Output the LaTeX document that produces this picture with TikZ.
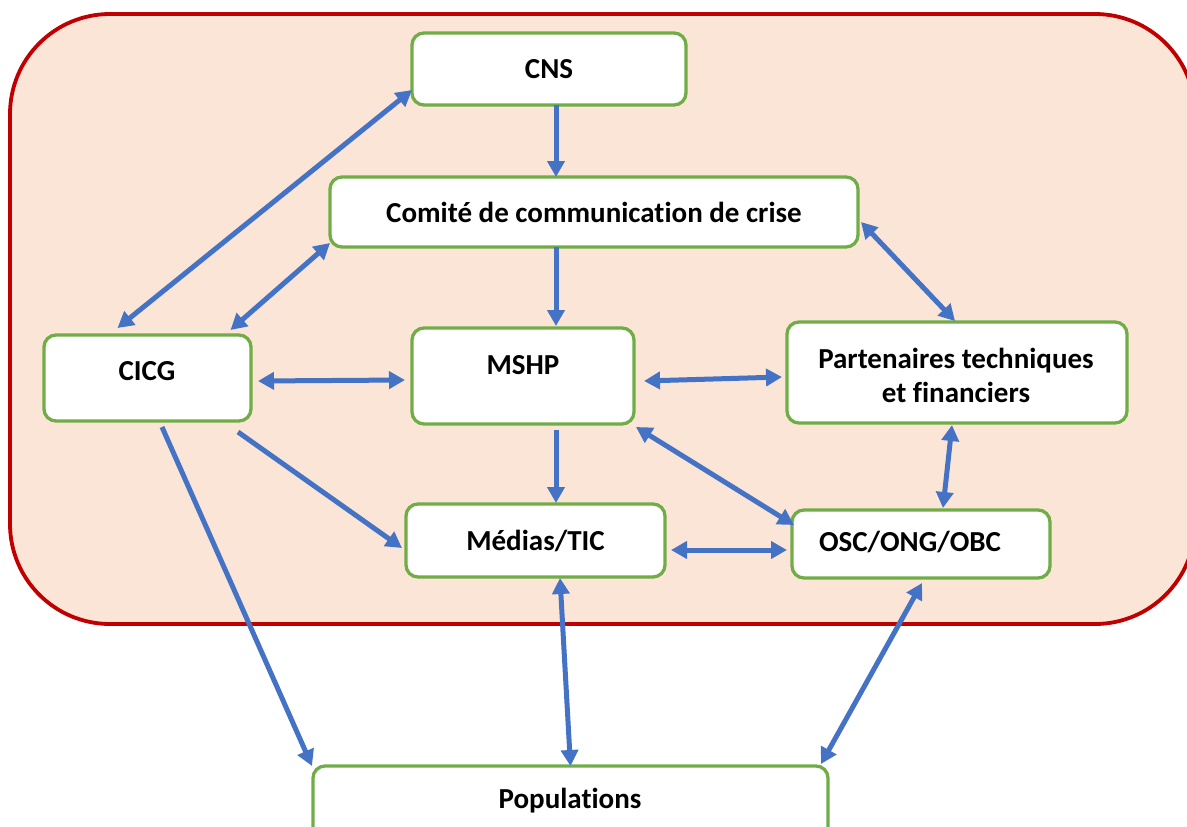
\documentclass[tikz,border=0pt]{standalone}
\usepackage{fontspec}
\setmainfont{Carlito}[Ligatures=NoCommon]
\usetikzlibrary{arrows.meta}
\definecolor{boxgreen}{HTML}{70AD47}
\definecolor{arrowblue}{HTML}{4472C4}
\definecolor{framered}{HTML}{C00000}
\definecolor{framefill}{HTML}{FBE5D6}
\tikzset{
  box/.style={draw=boxgreen, line width=3.3pt, fill=white, rounded corners=12pt,
    inner sep=0pt, outer sep=0pt, align=center,
    font=\bfseries\fontsize{29}{34}\selectfont},
  lbl/.style={inner sep=0pt, anchor=base, align=center, font=\bfseries\fontsize{29}{34}\selectfont},
  arr/.style={draw=arrowblue, line width=5pt, -{Triangle[length=16pt,width=17pt]}},
  darr/.style={draw=arrowblue, line width=5pt, {Triangle[length=16pt,width=17pt]}-{Triangle[length=16pt,width=17pt]}}
}
\begin{document}
\begin{tikzpicture}[x=1pt,y=-1pt]
\useasboundingbox (0,0) rectangle (1187,827);
% outer frame
\draw[draw=framered, fill=framefill, line width=3.8pt, rounded corners=100pt] (10,14) rectangle (1195,624);
% boxes
\node[box, minimum width=274pt, minimum height=72pt] (cns) at (549,69) {CNS};
\node[box, minimum width=528pt, minimum height=70pt] (com) at (594,212) {Comité de communication de crise};
\node[box, minimum width=207pt, minimum height=86pt] (cicg) at (147.5,378) {};
\node[lbl] (cicgt) at (147,380) {CICG};
\node[box, minimum width=222pt, minimum height=96pt] (mshp) at (523,376) {};
\node[lbl] (mshpt) at (523,374) {MSHP};
\node[box, minimum width=340pt, minimum height=101pt] (part) at (957,372.5) {};
\node[lbl] (partt) at (956,402) {Partenaires techniques\\et financiers};
\node[box, minimum width=259pt, minimum height=73pt] (med) at (535.5,540.5) {Médias/TIC};
\node[box, minimum width=258pt, minimum height=68pt] (osc) at (921,544) {};
\node[lbl] (osct) at (910,551) {OSC/ONG/OBC};
\node[box, minimum width=515pt, minimum height=84pt] (pop) at (570.5,808) {};
\node[lbl] (popt) at (570,808) {Populations};
% connectors
\draw[darr] ([shift={(0,21)}]cns.west) -- ([shift={(-30,-7)}]cicg.north);
\draw[darr] ([shift={(0,-4)}]com.south west) -- ([shift={(83,-5)}]cicg.north);
\draw[arr] ([shift={(7,0)}]cns.south) -- ([shift={(-38,0)}]com.north);
\draw[arr] ([shift={(-38,0)}]com.south) -- ([shift={(33,-2)}]mshp.north);
\draw[darr] ([shift={(7,3)}]cicg.east) -- ([shift={(-7,4)}]mshp.west);
\draw[darr] ([shift={(10,5)}]mshp.east) -- ([shift={(-5,4.5)}]part.west);
\draw[darr] ([shift={(3,10)}]com.east) -- ([shift={(-2,-1)}]part.north);
\draw[arr] ([shift={(33,6)}]mshp.south) -- ([shift={(20.5,-1)}]med.north);
\draw[arr] ([shift={(-13,11)}]cicg.south east) -- ([shift={(-4,7.5)}]med.west);
\draw[darr] ([shift={(2,3)}]mshp.south east) -- ([shift={(2,15)}]osc.north west);
\draw[darr] ([shift={(-5,2)}]part.south) -- ([shift={(22,-2)}]osc.north);
\draw[darr] ([shift={(6,9.5)}]med.east) -- ([shift={(-5,6)}]osc.west);
\draw[arr] ([shift={(14.5,6)}]cicg.south) -- ([shift={(-1,0)}]pop.north west);
\draw[darr] ([shift={(24.5,1)}]med.south) -- (pop.north);
\draw[darr] ([shift={(1,5)}]osc.south) -- ([shift={(-7,-2)}]pop.north east);
\end{tikzpicture}
\end{document}
